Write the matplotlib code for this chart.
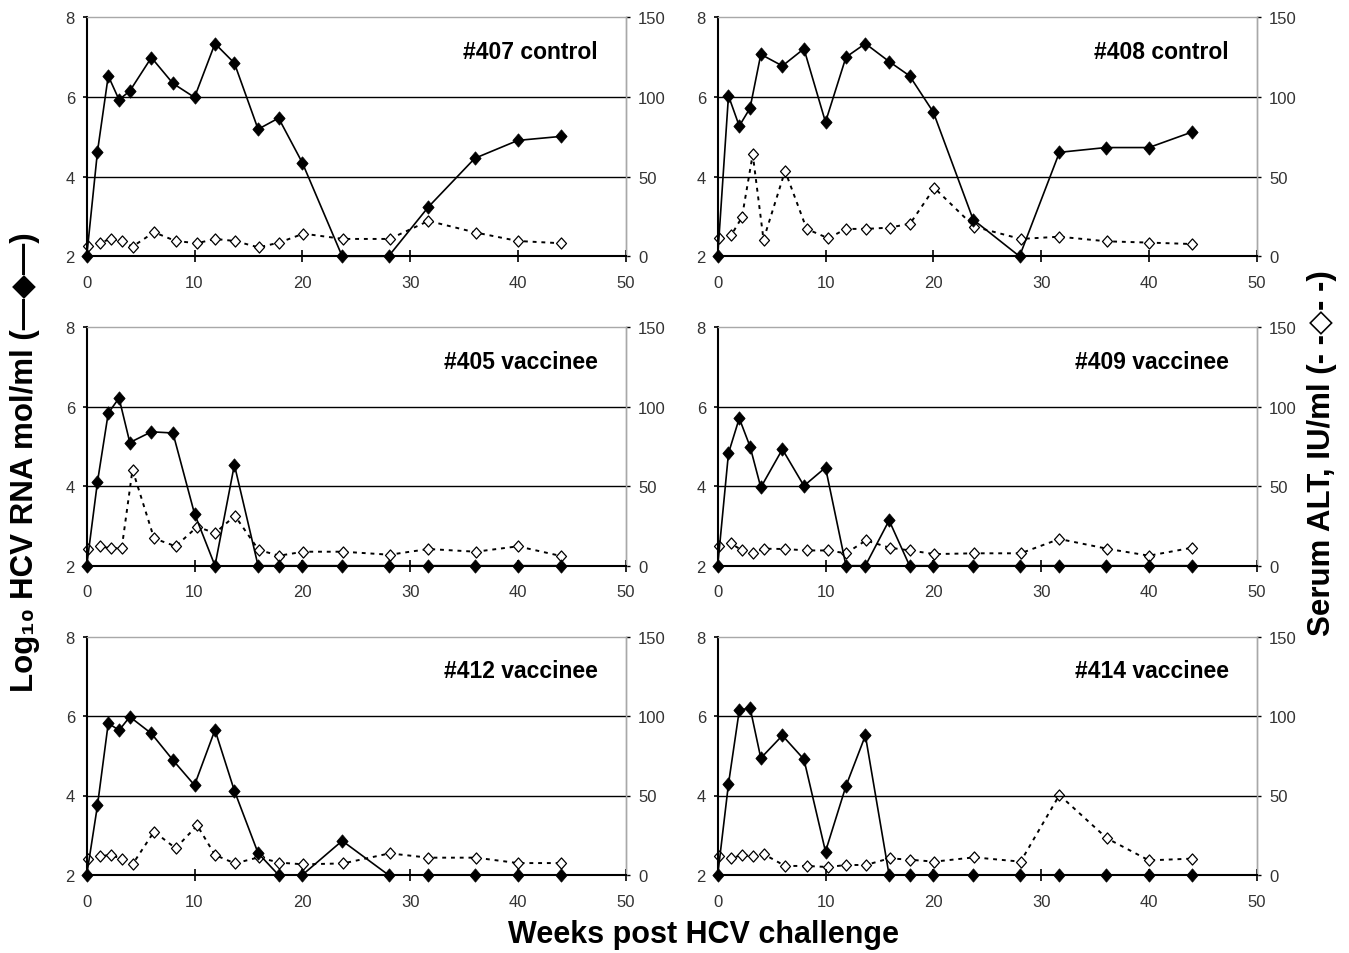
import matplotlib
matplotlib.use("Agg")
import matplotlib.pyplot as plt
from matplotlib.path import Path

plt.rcParams['font.family'] = ['Liberation Sans', 'DejaVu Sans']

# ---------------- data ----------------
rna_weeks = [0, 1, 2, 3, 4, 6, 8, 10, 11.9, 13.7, 15.9, 17.8, 20, 23.7, 28, 31.7, 36, 40, 44]
alt_weeks = [0.1, 1.25, 2.25, 3.25, 4.25, 6.25, 8.25, 10.25, 11.9, 13.75, 15.95, 17.85, 20.1, 23.8, 28.1, 31.7, 36.1, 40, 44]

panel_titles = ["#407 control", "#408 control", "#405 vaccinee",
                "#409 vaccinee", "#412 vaccinee", "#414 vaccinee"]

rna_407 = [2, 4.63, 6.53, 5.93, 6.15, 6.99, 6.34, 5.99, 7.34, 6.85, 5.19, 5.47, 4.35, 2, 2, 3.24, 4.46, 4.91, 5.01]
alt_407 = [6.7, 8.6, 10.9, 9.6, 6.1, 15.1, 9.6, 8.2, 10.9, 9.6, 5.6, 8.6, 14.2, 10.9, 10.9, 22.2, 14.9, 9.6, 8.2]

rna_408 = [2, 6.03, 5.27, 5.72, 7.07, 6.78, 7.21, 5.37, 7.0, 7.34, 6.89, 6.53, 5.62, 2.92, 2, 4.61, 4.73, 4.73, 5.12]
alt_408 = [11.5, 13.2, 24.5, 64.0, 10.5, 53.6, 17.2, 11.3, 17.2, 17.2, 18.0, 20.5, 42.9, 18.6, 10.9, 12.3, 9.4, 8.6, 7.7]

rna_405 = [2, 4.11, 5.84, 6.22, 5.10, 5.37, 5.34, 3.31, 2, 4.54, 2, 2, 2, 2, 2, 2, 2, 2, 2]
alt_405 = [10.5, 12.2, 10.9, 11.1, 60.4, 17.2, 12.2, 24.5, 20.5, 31.4, 9.9, 6.3, 8.8, 8.8, 6.9, 10.5, 8.8, 12.2, 6.1]

rna_409 = [2, 4.83, 5.71, 5.0, 3.97, 4.93, 4.01, 4.47, 2, 2, 3.14, 2, 2, 2, 2, 2, 2, 2, 2]
alt_409 = [12.4, 14.0, 9.6, 7.8, 10.7, 10.5, 9.6, 9.6, 7.8, 15.9, 11.3, 9.6, 7.3, 7.8, 7.8, 16.8, 10.7, 6.3, 11.3]

rna_412 = [2, 3.75, 5.82, 5.64, 5.98, 5.56, 4.89, 4.26, 5.65, 4.12, 2.55, 2, 2, 2.86, 2, 2, 2, 2, 2]
alt_412 = [10.3, 11.9, 12.6, 10.1, 6.7, 27.3, 16.8, 31.2, 12.6, 7.3, 11.1, 7.8, 6.7, 7.3, 13.6, 10.9, 10.9, 7.5, 7.5]

rna_414 = [2, 4.29, 6.14, 6.21, 4.94, 5.51, 4.91, 2.59, 4.24, 5.51, 2, 2, 2, 2, 2, 2, 2, 2, 2]
alt_414 = [11.9, 10.5, 12.6, 11.7, 13.2, 5.7, 5.7, 5.0, 6.3, 6.3, 10.5, 9.6, 8.4, 11.1, 8.4, 50.3, 23.1, 9.2, 10.3]

rna_series = [rna_407, rna_408, rna_405, rna_409, rna_412, rna_414]
alt_series = [alt_407, alt_408, alt_405, alt_409, alt_412, alt_414]

x_ticks = [0, 10, 20, 30, 40, 50]
rna_ticks = [2, 4, 6, 8]
alt_ticks = [0, 50, 100, 150]

# ---------------- layout ----------------
W, H = 1349, 954
fig = plt.figure(figsize=(W / 100, H / 100), dpi=100)

col_left = [86.7, 717.7]
ax_w = 539.0
rows = [(18.3, 257.3), (328.3, 566.7), (637.5, 876.0)]


def diamond_path(ratio):
    return Path([(0, 1), (ratio, 0), (0, -1), (-ratio, 0), (0, 1)],
                [Path.MOVETO, Path.LINETO, Path.LINETO, Path.LINETO, Path.CLOSEPOLY])


filled_d = diamond_path(0.85)
open_d = diamond_path(0.9)

tick_color = '#333333'
for i in range(6):
    r, c = divmod(i, 2)
    top, bot = rows[r]
    rect = [col_left[c] / W, 1 - bot / H, ax_w / W, (bot - top) / H]
    ax = fig.add_axes(rect)
    ax2 = ax.twinx()
    ax.set_zorder(ax2.get_zorder() + 1)
    ax.patch.set_visible(False)

    ax.set_xlim(0, 50)
    ax.set_ylim(2, 8)
    ax2.set_ylim(0, 150)
    ax.set_xticks(x_ticks)
    ax.set_yticks(rna_ticks)
    ax2.set_yticks(alt_ticks)

    # grid lines at interior ticks only
    ax.grid(axis='y', color='black', lw=1.0)
    gl = ax.get_ygridlines()
    gl[0].set_visible(False)
    gl[-1].set_visible(False)

    for s in ['left', 'bottom']:
        ax.spines[s].set_color('black')
        ax.spines[s].set_linewidth(1.5)
    for s in ['top', 'right']:
        ax.spines[s].set_color('#a8a8a8')
        ax.spines[s].set_linewidth(1.0)
    for s in ['top', 'left', 'bottom']:
        ax2.spines[s].set_visible(False)
    ax2.spines['right'].set_color('#a8a8a8')
    ax2.spines['right'].set_linewidth(1.0)

    ax.tick_params(axis='x', direction='inout', length=9, width=1.2, pad=9,
                   labelsize=12, labelcolor=tick_color)
    ax.tick_params(axis='y', direction='out', length=3, width=1.2, pad=5.5,
                   labelsize=12, labelcolor=tick_color)
    ax2.tick_params(axis='y', direction='out', length=3, width=1.0, pad=5.8,
                    labelsize=12, labelcolor=tick_color)

    # ALT (dotted, open diamonds)
    ax2.plot(alt_weeks, alt_series[i], color='black', lw=1.4,
             linestyle=(0, (2, 2.5)), marker=open_d, markersize=8,
             markerfacecolor='white', markeredgecolor='black',
             markeredgewidth=0.9, clip_on=False)
    # HCV RNA (solid, filled diamonds)
    ax.plot(rna_weeks, rna_series[i], color='black', lw=1.2,
            marker=filled_d, markersize=9.6, markerfacecolor='black',
            markeredgecolor='black', markeredgewidth=0.5, clip_on=False)

    ax.text(0.948, 0.858, panel_titles[i], transform=ax.transAxes,
            ha='right', va='center', fontsize=16.5, fontweight='bold')

fig.text(703 / W, 1 - 935 / H, "Weeks post HCV challenge", ha='center',
         va='center', fontsize=22, fontweight='bold')
fig.text(25 / W, 1 - 462 / H, "Log\u2081\u2080 HCV RNA mol/ml (\u2014\u25c6\u2014)",
         rotation=90, ha='center', va='center', fontsize=22.5, fontweight='bold')
fig.text(1322 / W, 1 - 453 / H, "Serum ALT, IU/ml (- -\u25c7- -)",
         rotation=90, ha='center', va='center', fontsize=22.5, fontweight='bold')

fig.savefig("out.png", dpi=100)
